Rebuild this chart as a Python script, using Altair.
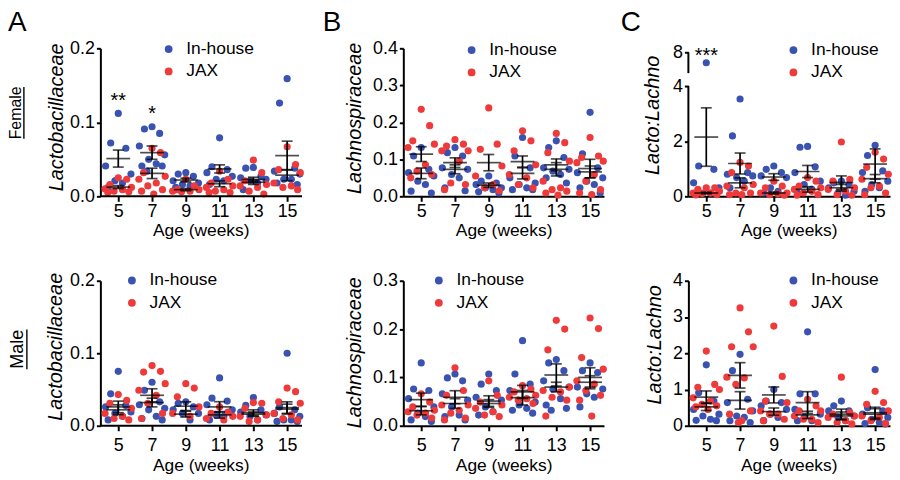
import altair as alt
import pandas as pd

AGES = [5, 7, 9, 11, 13, 15]
GROUPS = ["In-house", "JAX"]
COLORS = ["#3A52B0", "#EE3A3A"]
FONT = "Liberation Sans"

# ---------------- Female: Lactobacillaceae ----------------
lacto_f_inhouse = [
    [0.112, 0.072, 0.065, 0.041, 0.030, 0.021, 0.018, 0.012],
    [0.094, 0.091, 0.085, 0.068, 0.056, 0.050, 0.044, 0.041, 0.041, 0.034],
    [0.032, 0.030, 0.027, 0.021, 0.018, 0.016, 0.014, 0.012],
    [0.079, 0.040, 0.036, 0.032, 0.027, 0.023, 0.021, 0.016],
    [0.039, 0.038, 0.027, 0.025, 0.023, 0.021, 0.018, 0.009],
    [0.159, 0.126, 0.038, 0.034, 0.030, 0.023, 0.023, 0.018, 0.016],
]
lacto_f_jax = [
    [0.025, 0.023, 0.016, 0.012, 0.010, 0.009, 0.007, 0.006, 0.005],
    [0.065, 0.059, 0.032, 0.027, 0.023, 0.018, 0.014, 0.009, 0.007, 0.003],
    [0.023, 0.014, 0.009, 0.009, 0.007, 0.007, 0.006],
    [0.034, 0.023, 0.018, 0.014, 0.012, 0.009, 0.007, 0.005, 0.005],
    [0.049, 0.032, 0.021, 0.016, 0.014, 0.012, 0.007, 0.003],
    [0.067, 0.043, 0.036, 0.032, 0.018, 0.014, 0.012, 0.009],
]
lacto_f_in_mean = [0.051, 0.059, 0.022, 0.037, 0.0228, 0.055]
lacto_f_in_sem = [0.0115, 0.009, 0.0025, 0.0055, 0.003, 0.0195]
lacto_f_jax_mean = [0.0125, 0.031, 0.009, 0.017, 0.019, 0.0286]
lacto_f_jax_sem = [0.002, 0.007, 0.0015, 0.004, 0.003, 0.0075]

# ---------------- Female: Lachnospiraceae ----------------
lachno_f_inhouse = [
    [0.132, 0.109, 0.073, 0.064, 0.055, 0.041, 0.032, 0.014, 0.009],
    [0.132, 0.118, 0.109, 0.077, 0.073, 0.059, 0.050, 0.023, 0.015],
    [0.055, 0.041, 0.036, 0.032, 0.023, 0.023, 0.018, 0.012, 0.009],
    [0.159, 0.109, 0.077, 0.050, 0.036, 0.032, 0.023, 0.018, 0.018],
    [0.150, 0.132, 0.105, 0.077, 0.073, 0.068, 0.059, 0.050, 0.036],
    [0.227, 0.115, 0.077, 0.064, 0.050, 0.041, 0.032, 0.023, 0.009],
]
lachno_f_jax = [
    [0.235, 0.191, 0.150, 0.141, 0.132, 0.085, 0.068, 0.059, 0.050],
    [0.153, 0.141, 0.136, 0.123, 0.123, 0.095, 0.036, 0.032, 0.018],
    [0.239, 0.141, 0.127, 0.082, 0.055, 0.032, 0.023, 0.015],
    [0.177, 0.150, 0.123, 0.085, 0.059, 0.050, 0.032, 0.023],
    [0.170, 0.145, 0.118, 0.095, 0.041, 0.023, 0.018, 0.014, 0.009, 0.003],
    [0.159, 0.109, 0.105, 0.095, 0.091, 0.059, 0.041, 0.018, 0.009, 0.005],
]
lachno_f_in_mean = [0.062, 0.073, 0.030, 0.062, 0.073, 0.066]
lachno_f_in_sem = [0.0145, 0.012, 0.006, 0.015, 0.018, 0.016]
lachno_f_jax_mean = [0.114, 0.091, 0.091, 0.094, 0.085, 0.075]
lachno_f_jax_sem = [0.020, 0.013, 0.022, 0.015, 0.016, 0.025]

# ---------------- Female: Lacto:Lachno ----------------
ratio_f_inhouse = [
    [7.0, 1.10, 0.98, 0.49, 0.31, 0.12, 0.12],
    [3.53, 2.19, 0.86, 0.80, 0.74, 0.68, 0.55, 0.31],
    [1.10, 0.98, 0.86, 0.74, 0.68, 0.31, 0.18, 0.12],
    [1.81, 1.78, 1.07, 0.86, 0.55, 0.43, 0.25, 0.12],
    [0.55, 0.49, 0.43, 0.31, 0.18, 0.12, 0.04],
    [1.85, 1.48, 0.92, 0.86, 0.55, 0.43, 0.31, 0.18],
]
ratio_f_jax = [
    [0.31, 0.31, 0.25, 0.18, 0.12, 0.12, 0.10, 0.06, 0.05],
    [1.23, 1.10, 0.86, 0.43, 0.37, 0.31, 0.12, 0.12, 0.06, 0.06],
    [0.55, 0.37, 0.31, 0.12, 0.12, 0.09, 0.06, 0.04],
    [0.68, 0.55, 0.37, 0.31, 0.25, 0.18, 0.12, 0.06, 0.04],
    [1.97, 0.62, 0.55, 0.31, 0.25, 0.18, 0.06, 0.04],
    [1.60, 1.35, 1.05, 0.80, 0.62, 0.37, 0.31, 0.12, 0.06],
]
ratio_f_in_mean = [2.15, 1.19, 0.70, 0.90, 0.50, 1.17]
ratio_f_in_sem = [1.06, 0.38, 0.12, 0.22, 0.24, 0.55]
ratio_f_jax_mean = [0.12, 0.49, 0.12, 0.25, 0.31, 0.64]
ratio_f_jax_sem = [0.03, 0.18, 0.04, 0.10, 0.12, 0.15]

# ---------------- Male: Lactobacillaceae ----------------
lacto_m_inhouse = [
    [0.075, 0.044, 0.028, 0.026, 0.019, 0.017, 0.013, 0.008],
    [0.060, 0.049, 0.033, 0.029, 0.024, 0.022, 0.013, 0.010, 0.008],
    [0.033, 0.031, 0.026, 0.022, 0.017, 0.017, 0.008],
    [0.066, 0.038, 0.034, 0.029, 0.022, 0.015, 0.013, 0.008],
    [0.039, 0.028, 0.022, 0.019, 0.015, 0.013, 0.008],
    [0.100, 0.026, 0.022, 0.017, 0.013, 0.008, 0.008, 0.006, 0.006],
]
lacto_m_jax = [
    [0.043, 0.035, 0.031, 0.024, 0.017, 0.013, 0.010, 0.008],
    [0.083, 0.075, 0.074, 0.058, 0.049, 0.042, 0.031, 0.017, 0.010],
    [0.058, 0.052, 0.040, 0.026, 0.017, 0.013],
    [0.026, 0.019, 0.017, 0.013, 0.010, 0.008],
    [0.032, 0.031, 0.024, 0.015, 0.013, 0.008, 0.006],
    [0.052, 0.047, 0.033, 0.031, 0.017, 0.015, 0.010, 0.008],
]
lacto_m_in_mean = [0.022, 0.032, 0.016, 0.026, 0.016, 0.023]
lacto_m_in_sem = [0.0068, 0.006, 0.004, 0.0072, 0.003, 0.0068]
lacto_m_jax_mean = [0.026, 0.042, 0.027, 0.015, 0.018, 0.025]
lacto_m_jax_sem = [0.008, 0.009, 0.006, 0.0045, 0.004, 0.008]

# ---------------- Male: Lachnospiraceae ----------------
lachno_m_inhouse = [
    [0.130, 0.076, 0.073, 0.056, 0.039, 0.026, 0.019, 0.012, 0.009],
    [0.107, 0.099, 0.093, 0.066, 0.053, 0.039, 0.022, 0.019, 0.012],
    [0.107, 0.086, 0.073, 0.059, 0.053, 0.039, 0.029, 0.022],
    [0.176, 0.107, 0.086, 0.073, 0.049, 0.043, 0.036, 0.032, 0.026],
    [0.137, 0.130, 0.114, 0.093, 0.080, 0.076, 0.056, 0.043, 0.036, 0.032],
    [0.130, 0.114, 0.110, 0.080, 0.076, 0.066, 0.059, 0.039],
]
lachno_m_jax = [
    [0.066, 0.049, 0.039, 0.032, 0.029, 0.026, 0.022, 0.016],
    [0.120, 0.073, 0.063, 0.043, 0.043, 0.032, 0.026, 0.016, 0.012],
    [0.093, 0.063, 0.049, 0.043, 0.036, 0.029, 0.022, 0.019],
    [0.083, 0.076, 0.070, 0.063, 0.059, 0.056, 0.053, 0.046],
    [0.218, 0.200, 0.157, 0.080, 0.073, 0.070, 0.059, 0.053, 0.020],
    [0.223, 0.201, 0.141, 0.117, 0.093, 0.086, 0.073, 0.063, 0.053, 0.020],
]
lachno_m_in_mean = [0.054, 0.059, 0.051, 0.070, 0.080, 0.090]
lachno_m_in_sem = [0.0135, 0.0135, 0.011, 0.0135, 0.010, 0.0135]
lachno_m_jax_mean = [0.031, 0.046, 0.046, 0.058, 0.105, 0.100]
lachno_m_jax_sem = [0.0085, 0.010, 0.008, 0.015, 0.023, 0.020]

# ---------------- Male: Lacto:Lachno ----------------
ratio_m_inhouse = [
    [1.68, 0.91, 0.68, 0.45, 0.32, 0.27, 0.18, 0.15, 0.14],
    [1.97, 1.52, 0.73, 0.64, 0.41, 0.27, 0.23, 0.14, 0.09],
    [1.00, 0.68, 0.64, 0.55, 0.45, 0.32, 0.23, 0.14],
    [2.59, 0.88, 0.88, 0.45, 0.32, 0.23, 0.14, 0.14],
    [0.68, 0.55, 0.41, 0.41, 0.27, 0.23, 0.14],
    [1.55, 0.50, 0.41, 0.32, 0.23, 0.18, 0.09, 0.06, 0.05],
]
ratio_m_jax = [
    [2.06, 1.14, 1.06, 1.00, 0.77, 0.68, 0.59, 0.55, 0.52, 0.45],
    [3.25, 2.59, 2.18, 2.18, 1.34, 1.32, 1.14, 0.41, 0.32, 0.14, 0.09],
    [2.75, 1.36, 0.68, 0.64, 0.41, 0.32, 0.32, 0.18, 0.14],
    [0.73, 0.55, 0.41, 0.41, 0.27, 0.18, 0.18, 0.09],
    [1.34, 0.36, 0.32, 0.27, 0.23, 0.14, 0.09, 0.05],
    [0.95, 0.64, 0.59, 0.41, 0.27, 0.23, 0.14, 0.06],
]
ratio_m_in_mean = [0.52, 0.70, 0.39, 0.64, 0.32, 0.36]
ratio_m_in_sem = [0.10, 0.24, 0.10, 0.30, 0.14, 0.15]
ratio_m_jax_mean = [0.79, 1.39, 0.85, 0.30, 0.27, 0.32]
ratio_m_jax_sem = [0.17, 0.35, 0.22, 0.10, 0.11, 0.15]

# significance annotations
sig_lacto_ages = [5, 7]
sig_lacto_text = ["**", "*"]
sig_lacto_y = [0.1208, 0.1034]
sig_ratio_ages = [5]
sig_ratio_text = ["***"]
sig_ratio_y = [7.1]

# horizontal spread (in weeks) of the dots around each age
JIT_IN = [0.0, -0.45, 0.45, -0.75, 0.75, -0.2, 0.25, -0.6, 0.6, -0.3, 0.1]
JIT_JAX = [0.0, 0.5, -0.5, 0.78, -0.78, 0.25, -0.25, 0.62, -0.62, 0.1, -0.1]


def pts_df(inh, jax):
    rows = []
    for g, lists, jit in (("In-house", inh, JIT_IN), ("JAX", jax, JIT_JAX)):
        for age, vals in zip(AGES, lists):
            for i, v in enumerate(vals):
                rows.append({"age": age, "xj": age + jit[i % len(jit)], "value": v, "group": g})
    return pd.DataFrame(rows)


def err_df(mi, si, mj, sj):
    rows = []
    for g, ms, ss in (("In-house", mi, si), ("JAX", mj, sj)):
        for age, m, s in zip(AGES, ms, ss):
            rows.append({"age": age, "group": g, "mean": m, "lo": m - s, "hi": m + s})
    return pd.DataFrame(rows)


ONE = pd.DataFrame({"k": [0]})


def text_layer(txt, x, y, size, angle=0, align="left", baseline="alphabetic"):
    return alt.Chart(ONE).mark_text(
        text=txt, font=FONT, fontSize=size, angle=angle, align=align,
        baseline=baseline, color="black"
    ).encode(x=alt.value(x), y=alt.value(y))


def vline_px(x, y1, y2, w=1.4):
    return alt.Chart(ONE).mark_rule(color="black", strokeWidth=w).encode(
        x=alt.value(x), y=alt.value(y1), y2=alt.value(y2))


def panel(pts, err, ytitle, yscale, yvals, yfmt, width, height, legend_x, legend_y,
          ytitle_x, ytitle_y, xlab_pad, xtitle_y, x_domain_line=True, y_domain_line=True,
          label_expr=None, extras=()):
    xs = alt.Scale(domain=[3.94, 3.94 + width / 17.0], nice=False, zero=False)
    xax = alt.Axis(values=AGES, title="Age (weeks)", domain=x_domain_line, tickSize=5,
                   labelPadding=xlab_pad, titleX=101, titleY=xtitle_y, titleAlign="center",
                   titleBaseline="alphabetic", labelAngle=0, grid=False)
    ykw = dict(values=yvals, title=ytitle, tickSize=4, labelPadding=2, titleAngle=270,
               titleX=ytitle_x, titleY=ytitle_y, titleAlign="center", titleBaseline="middle",
               titleFontStyle="italic", titleFontSize=20, domain=y_domain_line, grid=False)
    if yfmt:
        ykw["format"] = yfmt
    if label_expr:
        ykw["labelExpr"] = label_expr
    yax = alt.Axis(**ykw)

    def X(f):
        return alt.X(f, scale=xs, axis=xax, title="Age (weeks)")

    def Y(f):
        return alt.Y(f, scale=yscale, axis=yax, title=ytitle)

    dots = alt.Chart(pts).mark_circle(size=52, opacity=1).encode(
        x=X("xj:Q"), y=Y("value:Q"),
        color=alt.Color("group:N", scale=alt.Scale(domain=GROUPS, range=COLORS),
                        legend=alt.Legend(orient="none", legendX=legend_x, legendY=legend_y,
                                          title=None, symbolType="circle", symbolSize=62,
                                          symbolStrokeWidth=0, labelFontSize=17.5,
                                          labelFont=FONT, labelColor="black", rowPadding=3.5,
                                          labelOffset=9, padding=0)))
    stems = alt.Chart(err).mark_rule(color="black", strokeWidth=1.7).encode(
        x=X("age:Q"), y=Y("lo:Q"), y2="hi:Q")
    means = alt.Chart(err).mark_tick(orient="horizontal", size=24, thickness=1.7,
                                     color="black").encode(x=X("age:Q"), y=Y("mean:Q"))
    caps = alt.Chart(err).transform_fold(["lo", "hi"], as_=["end", "yv"]).mark_tick(
        orient="horizontal", size=11, thickness=1.7, color="black").encode(
        x=X("age:Q"), y=Y("yv:Q"))
    layers = [dots, stems, means, caps] + list(extras)
    return alt.layer(*layers).properties(width=width, height=height)


H_TOP, H_BOT = 149, 146
W_A, W_B, W_C = 220, 202, 203

# ---- A female ----
sig_lacto_df = pd.DataFrame({"age": sig_lacto_ages, "lab": sig_lacto_text, "y": sig_lacto_y})
a_scale = alt.Scale(domain=[0, 0.2], nice=False, zero=False)
a_f = panel(
    pts_df(lacto_f_inhouse, lacto_f_jax),
    err_df(lacto_f_in_mean, lacto_f_in_sem, lacto_f_jax_mean, lacto_f_jax_sem),
    "Lactobacillaceae", a_scale, [0, 0.1, 0.2], ".1f", W_A, H_TOP, 60, -8,
    -44, 69, 1, 39, x_domain_line=False,
    extras=[
        alt.Chart(sig_lacto_df).mark_text(font=FONT, fontSize=20, color="black",
                                          baseline="alphabetic").encode(
            x=alt.X("age:Q", scale=alt.Scale(domain=[3.94, 3.94 + W_A / 17.0], nice=False, zero=False)),
            y=alt.Y("y:Q", scale=a_scale), text="lab:N"),
        alt.Chart(ONE).mark_rule(color="black", strokeWidth=2).encode(
            x=alt.value(0), x2=alt.value(203), y=alt.value(H_TOP)),
        text_layer("A", -93, -17, 28),
        text_layer("Female", -85, 65, 16, angle=270, align="center", baseline="middle"),
        vline_px(-77, 39, 91),
    ])

# ---- B female ----
b_f = panel(
    pts_df(lachno_f_inhouse, lachno_f_jax),
    err_df(lachno_f_in_mean, lachno_f_in_sem, lachno_f_jax_mean, lachno_f_jax_sem),
    "Lachnospiraceae", alt.Scale(domain=[0, 0.4], nice=False, zero=False),
    [0, 0.1, 0.2, 0.3, 0.4], ".1f", W_B, H_TOP, 60, -7, -49, 70, 1, 39,
    extras=[text_layer("B", -81, -17, 28)])

# ---- C female (broken axis) ----
c_scale = alt.Scale(domain=[0, 4, 6, 8], range=[H_TOP, 38, 25, 4], nice=False, zero=False)
sig_ratio_df = pd.DataFrame({"age": sig_ratio_ages, "lab": sig_ratio_text, "y": sig_ratio_y})
c_f = panel(
    pts_df(ratio_f_inhouse, ratio_f_jax),
    err_df(ratio_f_in_mean, ratio_f_in_sem, ratio_f_jax_mean, ratio_f_jax_sem),
    "Lacto:Lachno", c_scale, [0, 1, 2, 3, 4, 6, 8], "d", W_C, H_TOP, 97, -7, -36, 67, 1, 39,
    y_domain_line=False, label_expr="datum.value == 6 ? '' : datum.label",
    extras=[
        alt.Chart(ONE).mark_rule(color="black", strokeWidth=2).encode(
            x=alt.value(0), y=alt.datum(0, scale=c_scale), y2=alt.datum(4)),
        alt.Chart(ONE).mark_rule(color="black", strokeWidth=2).encode(
            x=alt.value(0), y=alt.datum(6, scale=c_scale), y2=alt.datum(8)),
        alt.Chart(sig_ratio_df).mark_text(font=FONT, fontSize=20, color="black",
                                          baseline="alphabetic").encode(
            x=alt.X("age:Q", scale=alt.Scale(domain=[3.94, 3.94 + W_C / 17.0], nice=False, zero=False)),
            y=alt.Y("y:Q", scale=c_scale), text="lab:N"),
        text_layer("C", -68, -17, 28),
    ])

# ---- A male ----
a_m = panel(
    pts_df(lacto_m_inhouse, lacto_m_jax),
    err_df(lacto_m_in_mean, lacto_m_in_sem, lacto_m_jax_mean, lacto_m_jax_sem),
    "Lactobacillaceae", alt.Scale(domain=[0, 0.2], nice=False, zero=False),
    [0, 0.1, 0.2], ".1f", W_A, H_BOT, 23, -9, -45, 66, 6, 45, x_domain_line=False,
    extras=[
        alt.Chart(ONE).mark_rule(color="black", strokeWidth=2).encode(
            x=alt.value(0), x2=alt.value(203), y=alt.value(H_BOT)),
        text_layer("Male", -83, 69, 18, angle=270, align="center", baseline="middle"),
        vline_px(-74, 49, 89),
    ])

# ---- B male ----
b_m = panel(
    pts_df(lachno_m_inhouse, lachno_m_jax),
    err_df(lachno_m_in_mean, lachno_m_in_sem, lachno_m_jax_mean, lachno_m_jax_sem),
    "Lachnospiraceae", alt.Scale(domain=[0, 0.3], nice=False, zero=False),
    [0, 0.1, 0.2, 0.3], ".1f", W_B, H_BOT, 27, -9, -49, 72, 6, 45)

# ---- C male ----
c_m = panel(
    pts_df(ratio_m_inhouse, ratio_m_jax),
    err_df(ratio_m_in_mean, ratio_m_in_sem, ratio_m_jax_mean, ratio_m_jax_sem),
    "Lacto:Lachno", alt.Scale(domain=[0, 4], nice=False, zero=False),
    [0, 1, 2, 3, 4], "d", W_C, H_BOT, 97, -9, -34, 64, 6, 45)

chart = alt.concat(
    a_f, b_f, c_f, a_m, b_m, c_m, columns=3,
    spacing={"row": 85, "column": 85}, bounds="flush", padding=0,
).resolve_scale(color="independent").resolve_legend(color="independent").configure_axis(
    labelFont=FONT, titleFont=FONT, labelFontSize=18, titleFontSize=17.5,
    labelColor="black", titleColor="black", domainColor="black", tickColor="black",
    domainWidth=2, tickWidth=2, titleFontWeight="normal",
).configure_view(stroke=None)

chart.save("out.html", embed_options={"renderer": "svg", "actions": False})
